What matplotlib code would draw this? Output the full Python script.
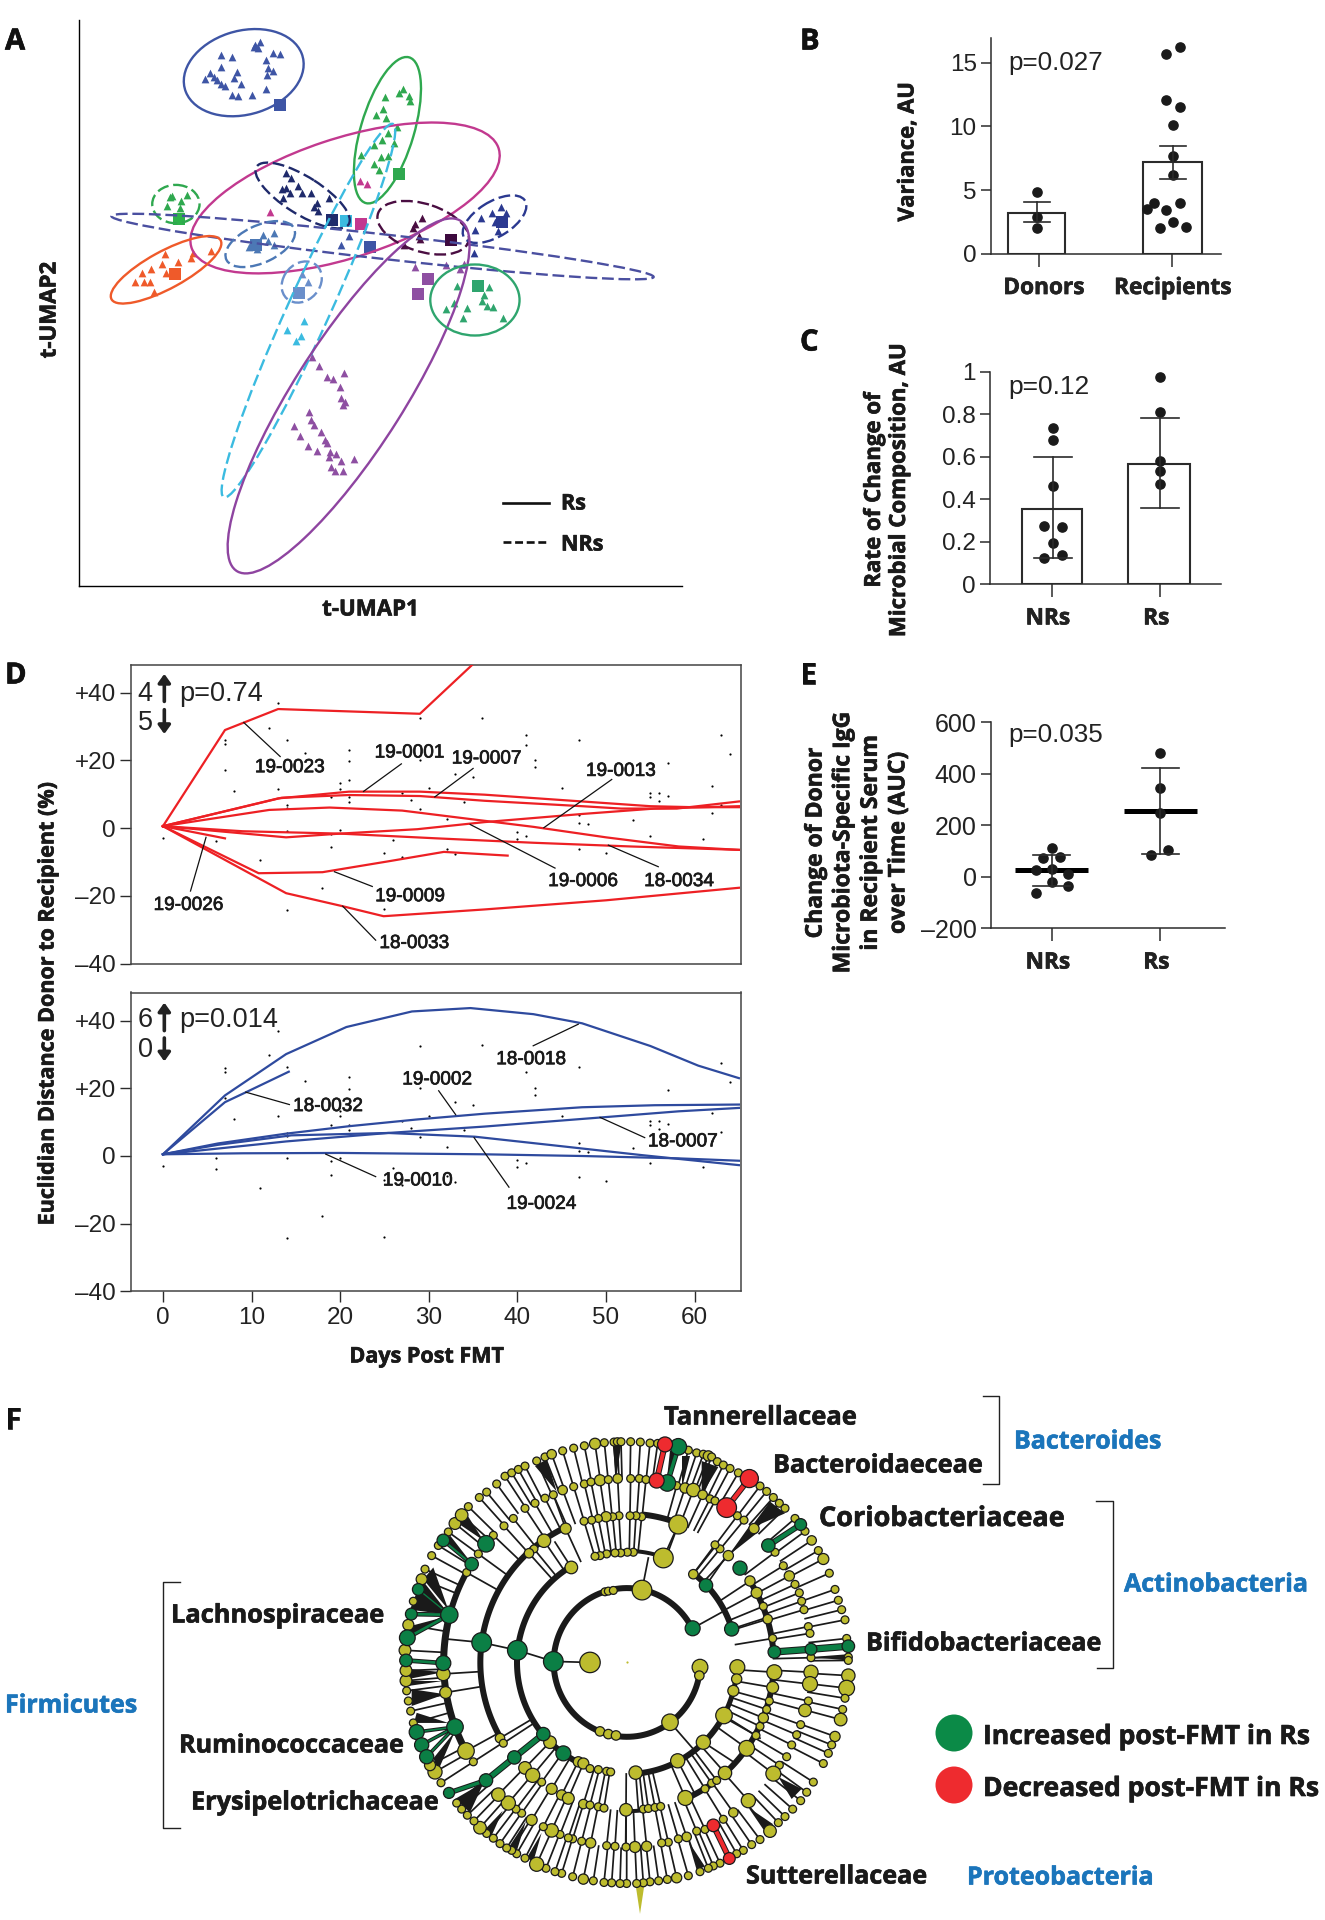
import numpy as np
import matplotlib
matplotlib.use('Agg')
import matplotlib.pyplot as plt
import matplotlib.patheffects as pe
from matplotlib.patches import Ellipse, Polygon
from matplotlib.transforms import ScaledTranslation

W, H = 1325, 1920
BOLD = 'Open Sans'
plt.rcParams['font.family'] = ['Liberation Sans', 'DejaVu Sans']
DARK = '#2b2b2b'

# ---------- panel A (units: picture position along t-UMAP axes)
ell_center = [(546, 178), (868, 319), (773, 485), (678, 479), (394, 500), (857, 604), (372, 661),
              (583, 598), (676, 691), (691, 761), (948, 558), (1108, 537), (781, 970), (1064, 735)]
ell_a = [138, 185, 365, 125, 53, 612, 142, 85, 53, 495, 107, 82, 497, 100]
ell_b = [102, 60, 145, 45, 47, 30, 45, 45, 42, 48, 58, 42, 125, 87]
ell_angle = [-20, -75, -20, 35, 0, 7, -31, -28, -60, -67.5, 20, -35, -60, 0]
ell_color = ['#3e55a5', '#2fa84f', '#c2398f', '#1f2a6b', '#2fa84f', '#4a4fa0', '#ef5a2a',
             '#4c78b5', '#6a8fcb', '#3bbbe0', '#4a0e42', '#2b3990', '#8e44a0', '#2fa56e']
ell_dashed = [0, 0, 0, 1, 1, 1, 0, 1, 1, 1, 1, 1, 0, 0]

tri_blue = [(494,135),(520,140),(572,110),(582,104),(578,118),(568,115),(612,130),(627,133),(595,148),(495,163),
            (600,167),(612,175),(598,183),(470,180),(460,194),(480,188),(486,196),(532,177),(525,190),(495,207),
            (505,210),(540,207),(595,218),(520,232),(533,235),(565,233)]
tri_green = [(903,217),(895,228),(917,235),(862,238),(858,268),(842,282),(865,290),(918,248),(890,312),(870,325),
             (855,342),(837,355),(882,350),(870,382),(853,385),(808,380),(838,403),(850,417)]
tri_pink = [(806,444),(822,450),(605,520)]
tri_navy = [(640,423),(652,437),(668,455),(640,461),(632,463),(650,473),(676,472),(697,473),(634,485),(737,485),
            (710,497),(703,508),(712,516)]
tri_blue2 = [(782,578),(765,600)]
tri_green2 = [(385,480),(405,493),(420,477),(375,505),(403,510),(380,483)]
tri_steel = [(590,575),(613,570),(600,590),(613,600),(575,610),(558,605)]
tri_orange = [(370,622),(433,620),(428,632),(473,614),(398,642),(363,648),(339,660),(318,670),(302,690),(322,692),
              (335,692),(372,668),(345,715)]
tri_light = [(676,672),(690,690)]
tri_cyan = [(680,787),(644,808),(675,823),(664,836)]
tri_purple = [(700,875),(714,897),(770,914),(733,923),(745,928),(762,948),(765,975),(772,985),(768,992),(692,1010),
              (697,1030),(703,1042),(658,1043),(720,1058),(672,1068),(728,1078),(733,1085),(689,1092),(711,1105),
              (740,1108),(752,1112),(738,1120),(793,1125),(765,1130),(742,1145),(750,1155),(768,1155),
              (930,655),(1000,650),(1040,647),(1030,660)]
tri_maroon = [(945,535),(930,548),(925,558),(938,578),(940,585),(905,600)]
tri_navy2 = [(1123,506),(1102,523),(1133,523),(1078,535),(1110,545),(1065,563),(1115,565),(1062,620)]
tri_teal = [(1023,700),(1095,703),(1085,722),(1080,738),(1018,742),(1047,755),(1092,750),(1105,752),(1000,757),
            (1038,778),(1126,780)]
tri_groups = [(tri_blue,'#3e55a5'),(tri_green,'#2fa84f'),(tri_pink,'#c2398f'),(tri_navy,'#1f2a6b'),(tri_blue2,'#3e55a5'),
              (tri_green2,'#2fa84f'),(tri_steel,'#4c78b5'),(tri_orange,'#ef5a2a'),(tri_light,'#6a8fcb'),(tri_cyan,'#3bbbe0'),
              (tri_purple,'#8e4fa2'),(tri_maroon,'#4a0e42'),(tri_navy2,'#2b3990'),(tri_teal,'#2fa56e')]
sq_pos = [(627,258),(894,426),(808,550),(743,540),(776,541),(828,606),(401,537),(573,601),(392,671),(670,717),
          (959,684),(936,721),(1011,587),(1125,543),(1072,700)]
sq_color = ['#3e55a5','#2fa84f','#c2398f','#1f2a6b','#3bbbe0','#3e55a5','#2db24a','#4c78b5','#ef5a2a','#6a8fcb',
            '#8e4fa2','#8e4fa2','#3d0a3e','#2b3990','#2fa56e']

# ---------- panel B
b_labels = ['Donors', 'Recipients']
b_means = [3.24, 7.2]
b_low = [2.5, 5.85]
b_high = [4.1, 8.5]
b_donors = [4.82, 2.9, 2.05]
b_rec_x = [0.06, -0.04, -0.04, 0.06, 0.01, 0.01, 0.01, -0.136, 0.06, -0.183, -0.04, 0.01, -0.086, 0.11]
b_rec_y = [16.2, 15.7, 12.1, 11.5, 10.1, 7.7, 6.2, 4.0, 3.96, 3.5, 3.47, 2.5, 2.0, 2.1]

# ---------- panel C
c_labels = ['NRs', 'Rs']
c_means = [0.353, 0.565]
c_low = [0.125, 0.358]
c_high = [0.6, 0.782]
c_nr_x = [0.01, 0.01, 0.01, -0.07, 0.09, 0.01, -0.07, 0.09]
c_nr_y = [0.737, 0.68, 0.46, 0.273, 0.27, 0.194, 0.125, 0.139]
c_r_y = [0.974, 0.812, 0.578, 0.533, 0.473]

# ---------- panel E
e_means = [25, 255]
e_low = [-34, 87]
e_high = [83, 422]
e_nr_x = [0, -0.08, 0.08, -0.15, 0, 0.15, 0, 0.15, -0.15]
e_nr_y = [113, 74, 75, 27, 32, 12, -19, -36, -64]
e_r_x = [0, 0, 0, 0.07, -0.09]
e_r_y = [480, 345, 249, 104, 84]

# ---------- panel D
dot_day = [13,12,29,14,7,7,36,41,41,47,63,64,16,21,21,29,7,42,42,33,35,57,21,20,20,8,13,30,45,62,27,19,21,21,28,34,
           55,55,56,57,56,14,14,29,62,63,47,32,47,48,53,20,6,14,0,19,40,41,40,55,6,26,61,19,25,32,33,47,50,27,11,18,14,25]
dot_val = [36.9,29.7,32.5,26.2,26.0,24.8,32.7,27.4,24.7,26.2,27.5,22,22.1,23.2,19.9,20.1,17.1,20.1,18,15.9,15.1,19.4,
           14.2,13.3,11.7,11,11.7,11.9,11.8,12.6,10.3,9.2,9.2,7.6,8.4,7.7,10.3,9.2,10.4,9.5,7.9,6.8,6,5.7,4.5,7,3.8,2.7,
           1.6,1.1,2.5,-0.5,-0.5,-0.7,-3,-1.6,-1.1,-2.2,-3.3,-2.2,-3.8,-3.4,-3.3,-5.7,-7.2,-6,-7.7,-6.2,-7.3,-8.5,-9.5,
           -17.6,-24.3,-24]
red_curves = [
    ([0,7,13,29,35], [0.6,29,35.2,33.8,48.5]),
    ([0,13,21,29,36.3,47.3,55,60,65], [0.6,8.8,10.8,10.8,9.9,7.9,6.5,6.2,6.2]),
    ([0,13.4,21,29,36.3,47.3,51.7,58,65], [0.6,9,9.8,9.5,8.1,6.5,5.8,5.8,7.9]),
    ([0,12,18.8,27,34.7,41.8,50,58.2,65], [0.6,5.4,6.1,5.2,2.7,0.4,-2.7,-5.4,-6.4]),
    ([0,13.9,20,28.7,36.3,47.3,55.5,65], [0.6,-2.7,-1.6,-0.3,1.8,4.2,5.8,6.5]),
    ([0,9,20,30.9,41.8,52.8,65], [0.6,-0.9,-1.6,-3,-4.3,-5.4,-6.4]),
    ([0,7], [0.6,-3]),
    ([0,10.8,18,25.4,31.7,38.9], [0.6,-13.3,-13,-9.8,-7,-8.1]),
    ([0,13.9,20.2,24.9,36.3,50,65], [0.6,-19.2,-23,-26,-24,-21.3,-17.6]),
]
blue_curves = [
    ([0,7,13.9,20.7,28.1,34.7,41.8,47.3,55,60.4,65], [0.5,17.9,30.1,38.1,42.7,43.7,41.9,39.2,32.5,26.7,23]),
    ([0,7,9.5,14.2], [0.5,15.9,19,24.9]),
    ([0,6.2,13.9,21,28.7,36.3,47.3,55.5,65], [0.5,3.7,6.6,8.8,10.8,12.5,14.4,15,15.2]),
    ([0,13.9,25.4,36.3,49.5,58.2,65], [0.5,4.3,6.8,8.7,11.4,13.2,14.2]),
    ([0,6.2,14.5,25.4,35.2,44.6,53.9,65], [0.5,3.3,6.1,6.8,5.7,3,0.3,-2.7]),
    ([0,9,20,36.3,47.3,58.2,65], [0.5,0.8,0.9,0.5,0,-0.7,-1.4]),
]
red_labels = ['19-0023','19-0001','19-0007','19-0013','19-0006','18-0034','19-0026','19-0009','18-0033']
blue_labels = ['18-0018','18-0032','19-0002','18-0007','19-0010','19-0024']
d_ticks = [40, 20, 0, -20, -40]
d_ticklabels = ['+40', '+20', '0', '\u201320', '\u201340']

# ---------- panel F, cladogram
tree_center = (741, 806)
ring_r = [110, 220, 330, 440, 550, 660]
ring5 = [(548,180),(581,172),(613,165),(645,159,28),(673,156),(702,154),(712,153),(723,153),(752,153),(781,154),(810,157),
         (833,158),(925,178),(950,186),(970,190),(985,195,26),(995,198),(1012,212),(1030,222),(1050,232),(1075,245),(1140,284),
         (1160,300),(1180,318),(1198,335),(1215,350),(1245,380),(1275,418),(1295,445,24),(1315,475),(1330,500,28),(1348,542),
         (1365,590),(1375,622),(1385,650),(1395,680),(1400,735),(1405,790),(1405,800),(1405,845,34),(1400,882,40),(1395,912),
         (1388,945),(1382,975,32),(1365,1025,26),(1355,1050),(1345,1075),(1330,1105),(1300,1160),(1280,1190),(1262,1215),
         (1238,1240),(1215,1262),(1195,1280),(1170,1305,32),(1140,1330),(1115,1345),(1090,1362),(1070,1372),(1020,1400),
         (1000,1408),(985,1415),(960,1425),(925,1437),(890,1443,26),(862,1448),(836,1452),(810,1455),(790,1458),(770,1460),
         (740,1460),(720,1460),(695,1458),(672,1457),(640,1452),(610,1447,26),(578,1440),(545,1430),(525,1425),(498,1415),
         (470,1403,36),(435,1385),(410,1372),(395,1362),(380,1355),(360,1342),(340,1326),(320,1312),(300,1295,32),(282,1275),
         (262,1258),(245,1240),(230,1222),(183,1162),(165,1130,36),(150,1110,28),(100,985),(92,950),(85,920),(80,890),(78,860,30),
         (78,830,30),(75,770,30),(85,695,28),(100,625),(125,560,28),(135,530),(155,490),(175,460),(205,420),(225,395,30),
         (245,370,32),(265,345),(298,318),(320,302),(350,278),(375,255),(395,245),(415,235),(435,225),(470,210),(495,198),(515,190,24)]
ring4 = [(548,296,24),(581,286),(613,278),(633,272),(660,267,28),(685,265),(713,262,24),(752,262),(778,262),(798,265),(890,283),
         (915,290,26),(940,296,34),(968,310,24),(990,322),(1005,328),(1072,372),(1092,385),(1122,410,26),(1185,480),(1210,520),
         (1228,550,26),(1245,575),(1258,600),(1265,625),(1272,650),(1285,700),(1290,720),(1293,792),(1293,835,36),(1290,870,38),
         (1285,920),(1275,948,32),(1262,990),(1250,1020),(1235,1050),(1220,1085),(1198,1110),(1180,1135,38),(1105,1215,36),
         (1060,1250,24),(1030,1270),(975,1300),(950,1305),(920,1322,24),(895,1328),(865,1338),(845,1340),(800,1350,26),
         (765,1352,28),(738,1352),(705,1350),(680,1348),(632,1340,26),(605,1335),(578,1328),(565,1325),(540,1315),(515,1303,34),
         (490,1292),(455,1272,28),(425,1252),(408,1240),(385,1222,36),(355,1197,34),(280,1100),(258,1068,42),(197,895,30),(190,840,34),
         (260,540),(295,485),(340,430),(372,402),(400,380),(435,350),(465,335),(495,320),(520,310)]
ring3 = [(360,1030,24),(370,1045),(435,1118,32),(458,1140,36),(485,1160),(515,1180,28),(545,1198,26),(565,1208,30),(610,1225,24),
         (630,1228),(655,1233),(672,1237),(738,1242,32),(790,1240),(805,1238),(825,1235),(842,1232),(916,1207,38),(975,1180),
         (995,1163),(1010,1155),(1035,1133,34),(1100,1060,40),(1128,1022),(1140,995),(1150,970,26),(1160,945),(1168,920),(1178,880,30),
         (1183,835,38),(1178,735),(1163,678,24),(1150,640),(1130,600,28),(1110,565,26),(1045,490,26),(1020,470),(1005,458),(895,398,48),
         (785,375),(768,372),(750,372),(717,372),(698,375),(678,375,26),(655,380),(635,385),(612,388),(557,410,28),(492,446,34),(462,470),(447,483,24)]
ring2 = [(510,1042,32),(595,1100,26),(610,1105,28),(630,1120),(655,1123),(680,1128),(692,1130),(767,1132,34),(893,1097,36),(970,1042,36),
         (1032,963,42),(1072,820,38),(1070,855,26),(1060,890,28),(940,545,24),(850,497,50),(760,480),(742,480),(722,482),(705,482),(680,485),
         (660,490),(645,492),(574,525,32)]
ring1 = [(786,592,50),(675,597),(685,595),(700,593),(660,1010,24),(685,1018,24),(708,1022,24),(870,983,42),(960,820,40),(958,845,24),(630,806,52)]
green_nodes = [(938,705,38),(520,803,50),(412,770,50),(305,747,50),(490,1018,34),(550,1075,38),(403,1087,34),(318,1155,34),(207,1192,28),
               (978,578,34),(1055,707,36),(1080,527,36),(1165,460,34),(1262,398,30),(1183,775,32),(1293,767,30),(1405,758,32),
               (895,168,42),(862,275,42),(208,665,44),(94,663,30),(115,590,30),(82,733,40),(190,808,38),(78,800,32),(225,997,42),
               (110,1012,38),(125,1050,36),(140,1085,36),(275,515,34),(190,445,32),(318,455,42)]
red_nodes = [(855,161,38),(830,268,38),(1108,262,46),(1040,348,50),(1000,1288,32),(1048,1386,30)]
green_edges = [((1183,775),(1293,767),16),((1293,767),(1405,758),16),((1165,460),(1262,398),12),((318,1155),(207,1192),10),
               ((318,1155),(403,1087),14),((403,1087),(490,1018),14),((190,808),(78,800),8),((208,665),(82,733),8),((208,665),(94,663),8),
               ((208,665),(115,590),4),((225,997),(110,1012),5),((225,997),(125,1050),5),((225,997),(140,1085),5),((275,515),(190,445),6),
               ((895,168),(862,275),10)]
red_edges = [((855,161),(830,268),12),((1108,262),(1040,348),12),((1000,1288),(1048,1386),12)]
black_lines = [((412,770),(520,803)),((305,747),(412,770)),((203,737),(305,747)),((786,592),(805,497)),((850,497),(895,398)),
               ((938,705),(1030,655)),((1055,707),(1155,675)),((870,983),(945,1068)),((893,1097),(942,1190)),((970,1042),(1060,1100)),
               ((1032,963),(1140,1030)),((767,1132),(775,1240)),((738,1242),(737,1350)),((574,525),(525,450)),((557,410),(520,310)),
               ((978,578),(1040,490)),((940,545),(1000,470)),((520,803),(630,806))]
# ring index, start and end angle in degrees, width
arc_ring = [1, 2, 2, 2, 2, 2, 3, 3, 3, 3, 3, 3, 4, 4]
arc_start = [27, 120, 17.5, 72, -85.4, -28, 115, 4, 69.4, -66, -90, -48, 165, 151]
arc_end = [355, 250, 52, 107, -28, -2, 210, 33.7, 84, -52, -77, -4, 208.5, 165]
arc_width = [12, 12, 12, 8, 12, 10, 12, 12, 12, 12, 8, 12, 14, 12]
wedges = [[(708,262),(698,160),(724,160)], [(860,270),(870,180),(895,175)], [(905,290),(905,195),(930,195)], [(965,310),(965,210),(1015,228)],
          [(1110,410),(1170,330),(1215,365)], [(1045,490),(1110,400),(1135,420)], [(1293,790),(1400,782),(1400,800)],
          [(1195,1145),(1235,1210),(1265,1180)], [(1105,1235),(1150,1300),(1180,1285)], [(925,1335),(950,1420),(975,1410)],
          [(438,1275),(385,1355),(410,1365)], [(485,1310),(440,1385),(460,1395)], [(368,1245),(315,1300),(335,1318)],
          [(312,1160),(225,1210),(270,1250)], [(205,985),(110,955),(102,985)], [(195,900),(95,885),(95,935)], [(190,835),(85,825),(85,855)],
          [(190,860),(85,860),(85,875)], [(208,665),(90,650),(125,560)], [(205,650),(160,525),(130,560)], [(200,670),(70,740),(85,700)],
          [(310,445),(235,395),(265,375)], [(265,500),(195,450),(210,430)], [(530,300),(465,225),(500,205)], [(225,1010),(160,1090),(175,1125)]]
spike = [(765,1452),(795,1452),(780,1550)]


def add_ax(l, t, r, b, **kw):
    return fig.add_axes([l / W, 1 - b / H, (r - l) / W, (b - t) / H], **kw)


def heavy(t, c='#1a1a1a', lw=0.45):
    t.set_path_effects([pe.withStroke(linewidth=lw, foreground=c)])


def bar_style(ax, shifts):
    ax.spines['top'].set_visible(False)
    ax.spines['right'].set_visible(False)
    ax.spines['left'].set_color(DARK)
    ax.spines['bottom'].set_color(DARK)
    ax.spines['left'].set_linewidth(1.1)
    ax.spines['bottom'].set_linewidth(1.1)
    ax.tick_params(axis='y', length=7, width=1.1, color=DARK, labelsize=17.5, pad=3, labelcolor='#222222')
    ax.tick_params(axis='x', length=9, width=1.1, color=DARK, pad=7)
    for t, dx in zip(ax.get_xticklabels(), shifts):
        t.set_family(BOLD)
        t.set_fontweight('bold')
        t.set_fontsize(16.3)
        t.set_color('#222222')
        t.set_transform(t.get_transform() + ScaledTranslation(dx / 100, 0, fig.dpi_scale_trans))
        heavy(t)


def err(ax, x, lo, hi, cap):
    ax.plot([x, x], [lo, hi], color=DARK, lw=1.2, zorder=4)
    ax.plot([x - cap, x + cap], [lo, lo], color=DARK, lw=1.2, zorder=4)
    ax.plot([x - cap, x + cap], [hi, hi], color=DARK, lw=1.2, zorder=4)


fig = plt.figure(figsize=(W / 100, H / 100), dpi=100, facecolor='white')

# A
axa = add_ax(78.6, 19.6, 682, 585.7)
axa.set_xlim(176, 1528)
axa.set_ylim(1435, 48)
for s in ['top', 'right']:
    axa.spines[s].set_visible(False)
for s in ['left', 'bottom']:
    axa.spines[s].set_linewidth(1.0)
axa.set_xticks([])
axa.set_yticks([])
for pts, c in tri_groups:
    axa.scatter([p[0] for p in pts], [p[1] for p in pts], marker='^', s=31, color=c, linewidths=0, zorder=3)
for p, c in zip(sq_pos, sq_color):
    axa.scatter(p[0], p[1], marker='s', s=78, color=c, linewidths=0, zorder=4)
for i in range(len(ell_a)):
    axa.add_patch(Ellipse(ell_center[i], 2 * ell_a[i], 2 * ell_b[i], angle=ell_angle[i], fill=False, edgecolor=ell_color[i],
                          lw=1.7, ls=(0, (5, 2)) if ell_dashed[i] else '-', zorder=5))
axa.plot([1127, 1230], [1232, 1232], color='#111111', lw=1.9)
axa.plot([1127, 1230], [1327, 1327], color='#111111', lw=1.9, ls=(0, (3, 1.4)))

# B
axb = add_ax(990.6, 37.9, 1221.4, 253.8)
axb.set_xlim(-0.364, 1.374)
axb.set_ylim(0, 16.95)
axb.bar([-0.02, 1.005], b_means, width=[0.43, 0.45], facecolor='white', edgecolor=DARK, lw=1.5, zorder=1)
axb.scatter([-0.015] * 3, b_donors, s=44, color='#1a1a1a', zorder=3, clip_on=False)
axb.scatter(1 + np.array(b_rec_x), b_rec_y, s=44, color='#1a1a1a', zorder=3, clip_on=False)
for i in range(2):
    err(axb, [-0.015, 1.01][i], b_low[i], b_high[i], 0.095)
axb.set_yticks([0, 5, 10, 15])
axb.set_xticks([0, 1], b_labels)
bar_style(axb, [5, 1])

# C
axc = add_ax(990, 371.6, 1220.7, 584.2)
axc.set_xlim(-0.57, 1.558)
axc.set_ylim(0, 1)
axc.bar([0.005, 0.99], c_means, width=[0.554, 0.565], facecolor='white', edgecolor=DARK, lw=1.5, zorder=1)
axc.scatter(c_nr_x, c_nr_y, s=44, color='#1a1a1a', zorder=3)
axc.scatter([1] * 5, c_r_y, s=44, color='#1a1a1a', zorder=3, clip_on=False)
for i in range(2):
    err(axc, [0.01, 1][i], c_low[i], c_high[i], 0.176)
axc.set_yticks([0, 0.2, 0.4, 0.6, 0.8, 1], ['0', '0.2', '0.4', '0.6', '0.8', '1'])
axc.set_xticks([0, 1], c_labels)
bar_style(axc, [-4, -4])

# E
axe = add_ax(990.6, 722.3, 1225, 928.3)
axe.set_xlim(-0.564, 1.596)
axe.set_ylim(-200, 600)
for i in range(2):
    axe.plot([i - 0.335, i + 0.335], [e_means[i], e_means[i]], color='black', lw=3.6, zorder=2, solid_capstyle='butt')
    err(axe, i, e_low[i], e_high[i], 0.17)
axe.scatter(e_nr_x, e_nr_y, s=44, color='#1a1a1a', zorder=3)
axe.scatter(1 + np.array(e_r_x), e_r_y, s=44, color='#1a1a1a', zorder=3)
axe.set_yticks([-200, 0, 200, 400, 600], ['\u2013200', '0', '200', '400', '600'])
axe.set_xticks([0, 1], c_labels)
bar_style(axe, [-4, -4])
axe.tick_params(axis='y', labelsize=18)

# D
for i, (curves, color) in enumerate([(red_curves, '#ed2024'), (blue_curves, '#2e4a9e')]):
    top, bot = [(664.7, 963.6), (992.5, 1291.4)][i]
    axd = add_ax(131.4, top, 740.7, bot)
    axd.set_xlim(-3.56, 65.2)
    axd.set_ylim(-40, 48.3)
    axd.scatter(dot_day, dot_val, s=2.5, color='black', linewidths=0, zorder=2)
    for x, y in curves:
        axd.plot(x, y, color=color, lw=1.6, zorder=3, solid_joinstyle='round')
    axd.set_yticks(d_ticks, d_ticklabels)
    axd.tick_params(axis='both', length=8, width=1.0, color=DARK, labelsize=17.5, pad=3, labelcolor='#222222')
    for s in axd.spines.values():
        s.set_color('#444444')
        s.set_linewidth(1.1)
    if i == 0:
        axd.set_xticks([])
    else:
        axd.set_xticks(range(0, 61, 10))

# F
axf = add_ax(380, 1390, 880, 1920)
axf.set_xlim(0, 1500)
axf.set_ylim(1568, 0)
axf.axis('off')
cx, cy = tree_center
for ring, nodes in [(5, ring5), (4, ring4), (3, ring3)]:
    for n in nodes:
        t = np.arctan2(cy - n[1], n[0] - cx)
        r0 = ring_r[ring - 1]
        axf.plot([cx + r0 * np.cos(t), n[0]], [cy - r0 * np.sin(t), n[1]], color='#1a1a1a', lw=1.25, zorder=1)
for p, q in black_lines:
    axf.plot([p[0], q[0]], [p[1], q[1]], color='#1a1a1a', lw=1.25, zorder=1)
for tri in wedges:
    axf.add_patch(Polygon(tri, closed=True, color='#1a1a1a', lw=0, zorder=1))
for i in range(len(arc_ring)):
    t = np.radians(np.linspace(arc_start[i], arc_end[i], 120))
    r = ring_r[arc_ring[i]]
    axf.plot(cx + r * np.cos(t), cy - r * np.sin(t), color='#1a1a1a', lw=arc_width[i] * 0.36, zorder=2, solid_capstyle='butt')
for edges, c in [(green_edges, '#0b7f45'), (red_edges, '#ee2b2f')]:
    for p, q, w in edges:
        axf.plot([p[0], q[0]], [p[1], q[1]], color='#1a1a1a', lw=(w + 6) * 0.24, zorder=3)
        axf.plot([p[0], q[0]], [p[1], q[1]], color=c, lw=w * 0.24, zorder=3)
axf.add_patch(Polygon(spike, closed=True, color='#bdbc2e', lw=0, zorder=4))
for nodes, c in [(ring5 + ring4 + ring3 + ring2 + ring1, '#bdbc2e'), (green_nodes, '#0b7f45'), (red_nodes, '#ee2b2f')]:
    xs = [n[0] for n in nodes]
    ys = [n[1] for n in nodes]
    ds = np.array([n[2] if len(n) > 2 else 20 for n in nodes]) * 1.18
    axf.scatter(xs, ys, s=(ds * 0.24) ** 2, color=c, edgecolors='#1a1a1a', linewidths=0.9, zorder=5)
axf.scatter([cx], [cy], s=2.5, color='#bdbc2e', linewidths=0, zorder=5)

# overlay for text and leaders, full picture pixels
ov = fig.add_axes([0, 0, 1, 1], facecolor='none', zorder=20)
ov.set_xlim(0, W)
ov.set_ylim(H, 0)
ov.axis('off')


def bold(x, y, s, size=15.5, ha='center', color='#1a1a1a', rot=0, **kw):
    t = ov.text(x, y, s, family=BOLD, fontweight='bold', fontsize=size, ha=ha, va='center', color=color, rotation=rot, **kw)
    heavy(t, color)


for s, x, y in [('A', 5, 42), ('B', 800, 42), ('C', 800, 343), ('D', 5, 676), ('E', 800, 676), ('F', 5, 1421)]:
    bold(x, y, s, size=21, ha='left', color='#111111')
bold(50, 310, 't-UMAP2', 16, rot=90)
bold(370.5, 610, 't-UMAP1', 16)
bold(561, 504, 'Rs', 15.5, ha='left')
bold(561, 545, 'NRs', 15.5, ha='left')
bold(908, 151.5, 'Variance, AU', 15.8, rot=90)
bold(887, 490, 'Rate of Change of\nMicrobial Composition, AU', 16, rot=90, linespacing=1.25, multialignment='center')
bold(857, 843, 'Change of Donor\nMicrobiota-Specific IgG\nin Recipient Serum\nover Time (AUC)', 16.5, rot=90, linespacing=1.2, multialignment='center')
bold(48, 1004, 'Euclidian Distance Donor to Recipient (%)', 15.5, rot=90)
bold(426.6, 1357, 'Days Post FMT', 15.5)

for x, y, s, f in [(1008, 63, 'p=0.027', 18.7), (1008, 387, 'p=0.12', 19), (1008, 735, 'p=0.035', 18.7)]:
    ov.text(x, y, s, fontsize=f, ha='left', va='center', color='#222222')


def z2(X, Y):
    return X / 2.063, 650 + Y / 2.178


for X, Y, s in [(284, 95, '4'), (284, 160, '5'), (284, 805, '6'), (284, 871, '0')]:
    x, y = z2(X, Y)
    ov.text(x, y, s, fontsize=19.5, ha='left', va='center', color='#222222')
for X, Y, s in [(370, 95, 'p=0.74'), (370, 805, 'p=0.014')]:
    x, y = z2(X, Y)
    ov.text(x, y, s, fontsize=19.5, ha='left', va='center', color='#222222')
for Y0, Y1 in [(112, 52), (130, 183), (829, 768), (845, 896)]:
    ov.annotate('', xy=z2(339, Y1), xytext=z2(339, Y0), arrowprops=dict(arrowstyle='-|>,head_width=0.36,head_length=0.5', color='#222222', lw=2.6, shrinkA=0, shrinkB=0))

label_xy = [(598,252),(845,220),(1004,233),(1281,260),(1203,500),(1401,500),(389,552),(846,533),(855,635),
            (1096,888),(677,990),(902,932),(1409,1067),(862,1152),(1117,1203)]
leader = [((503,158),(578,232)),((750,308),(828,248)),((897,320),(976,258)),((1122,387),(1262,282)),((970,380),(1145,475)),
          ((1255,425),(1358,472)),((425,408),(393,525)),((690,483),(768,515)),((707,558),(775,632)),
          ((1193,815),(1100,862)),((507,963),(597,990)),((905,960),(940,1012)),((1238,1018),(1330,1062)),((672,1098),(775,1147)),((978,1062),(1050,1170))]
for s, p, (a, b) in zip(red_labels + blue_labels, label_xy, leader):
    x, y = z2(*p)
    t = ov.text(x, y + 2, s, fontsize=13.7, ha='center', va='center', color='#1a1a1a')
    heavy(t, lw=0.5)
    xa, ya = z2(*a)
    xb, yb = z2(*b)
    ov.plot([xa, xb], [ya, yb], color='#111111', lw=0.9)

for x, y, s, f in [(664, 1417, 'Tannerellaceae', 18.4), (773, 1466, 'Bacteroidaeceae', 18.2), (819, 1519, 'Coriobacteriaceae', 19.5),
                   (866, 1644, 'Bifidobacteriaceae', 18.1), (171, 1616, 'Lachnospiraceae', 18.3), (179, 1746, 'Ruminococcaceae', 18.1),
                   (191, 1803, 'Erysipelotrichaceae', 18.2), (746, 1877, 'Sutterellaceae', 18.1)]:
    bold(x, y, s, f, ha='left')
for x, y, s in [(1014, 1442, 'Bacteroides'), (1124, 1585, 'Actinobacteria'), (5, 1706, 'Firmicutes'), (967, 1878, 'Proteobacteria')]:
    bold(x, y, s, 18, ha='left', color='#1b75bb')
ov.scatter([954, 954], [1733, 1785], s=(37 * 0.72) ** 2, color=['#0b8a47', '#ee2b2f'], linewidths=0)
bold(983, 1737, 'Increased post-FMT in Rs', 19.1, ha='left')
bold(983, 1789, 'Decreased post-FMT in Rs', 19.1, ha='left')
for xs, ys in [([983, 999, 999, 983], [1396, 1396, 1484, 1484]), ([1096, 1113, 1113, 1097], [1501, 1501, 1668, 1668]),
               ([180, 163, 163, 180], [1582, 1582, 1828, 1828])]:
    ov.plot(xs, ys, color='#222222', lw=1.0)

fig.savefig('out.png', dpi=100)
